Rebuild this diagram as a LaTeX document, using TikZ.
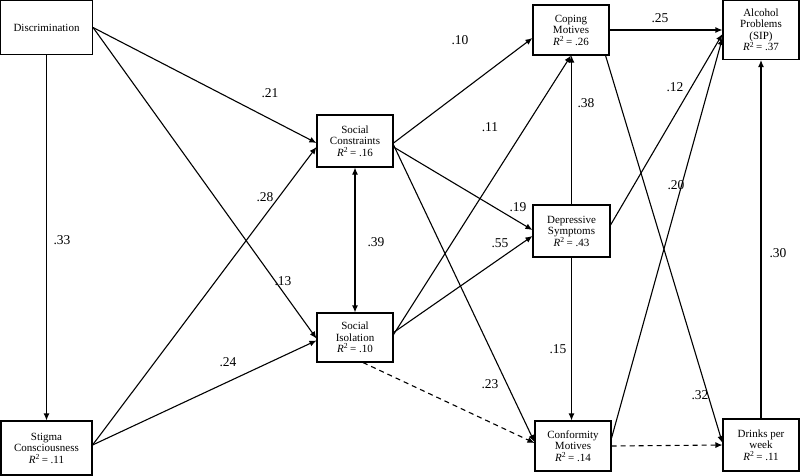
\documentclass[tikz,border=0pt]{standalone}
\usepackage{fontspec}
\setmainfont{Liberation Serif}
\usetikzlibrary{arrows.meta}

\newcommand{\rsq}[1]{\textit{R}\textsuperscript{2}\,= #1}

\begin{document}
\begin{tikzpicture}[x=1pt,y=-1pt,line width=1.1pt,>={Latex[length=7pt,width=6pt]}]
  \tikzset{
    varbox/.style={draw,line width=1.1pt,align=center,inner sep=1pt,
      font=\fontsize{11}{11.5}\selectfont},
    coef/.style={font=\fontsize{13.5}{13.5}\selectfont},
    pathline/.style={->},
    nspath/.style={->,dash pattern=on 5pt off 4pt}
  }
  \useasboundingbox (0,0) rectangle (800,476);
  % cajas
  \node[varbox,minimum width=92pt,minimum height=54pt] (disc) at (46.5,27.5){Discrimination};
  \node[varbox,minimum width=91pt,minimum height=54pt] (stig) at (46.5,448){Stigma\\Consciousness\\\rsq{.11}};
  \node[varbox,minimum width=76pt,minimum height=52pt] (cons) at (355,141){Social\\Constraints\\\rsq{.16}};
  \node[varbox,minimum width=76pt,minimum height=49pt] (isol) at (355,337.5){Social\\Isolation\\\rsq{.10}};
  \node[varbox,minimum width=76pt,minimum height=50pt] (cop) at (571,30){Coping\\Motives\\\rsq{.26}};
  \node[varbox,minimum width=77pt,minimum height=52pt] (dep) at (571.5,231){Depressive\\Symptoms\\\rsq{.43}};
  \node[varbox,minimum width=76pt,minimum height=50pt] (conf) at (573,446){Conformity\\Motives\\\rsq{.14}};
  \node[varbox,minimum width=76pt,minimum height=59pt] (alc) at (761,30){Alcohol\\Problems\\(SIP)\\\rsq{.37}};
  \node[varbox,minimum width=76pt,minimum height=52pt] (drk) at (761,445){Drinks per\\week\\\rsq{.11}};
  % discriminacion y estigma
  \draw[pathline] (disc.south) -- (stig.north);
  \draw[pathline] (disc.east) -- ([yshift=-2pt]cons.west);
  \draw[pathline] (disc.east) -- ([yshift=-1pt]isol.west);
  \draw[pathline] ([yshift=3pt]stig.east) -- ([yshift=-6pt]cons.west);
  \draw[pathline] ([yshift=3pt]stig.east) -- ([yshift=-3pt]isol.west);
  \draw[<->] (cons.south) -- (isol.north);
  % mediadores
  \draw[pathline] ([yshift=-2pt]cons.east) -- ([yshift=-8pt]cop.west);
  \draw[pathline] ([yshift=-6pt]cons.east) -- ([yshift=1pt]dep.west);
  \draw[pathline] ([yshift=-4pt]cons.east) -- ([yshift=4pt]conf.west);
  \draw[pathline] ([yshift=3pt]isol.east) -- (cop.south);
  \draw[pathline] ([yshift=5pt]isol.east) -- ([yshift=-5pt]dep.west);
  \draw[nspath] ([xshift=8pt]isol.south) -- ([yshift=3pt]conf.west);
  \draw[pathline] (dep.north) -- ([xshift=0.5pt]cop.south);
  \draw[pathline] (dep.south) -- ([xshift=-1.5pt]conf.north);
  % resultados
  \draw[pathline] (cop.east) -- ([yshift=0pt]alc.west);
  \draw[pathline] ([xshift=-4pt]cop.south east) -- ([yshift=2pt]drk.west);
  \draw[pathline] ([yshift=6pt]dep.east) -- ([yshift=-4pt]alc.west);
  \draw[pathline] ([yshift=8pt]conf.east) -- ([yshift=-8pt]alc.west);
  \draw[nspath] ([yshift=0pt]conf.east) -- ([yshift=0pt]drk.west);
  \draw[pathline] (drk.north) -- (alc.south);
  % coeficientes
  \node[coef] (c33) at (62,240){.33};
  \node[coef] (c21) at (270,93){.21};
  \node[coef] (c13) at (283,281){.13};
  \node[coef] (c28) at (265,197){.28};
  \node[coef] (c24) at (228,362){.24};
  \node[coef] (c39) at (376,242){.39};
  \node[coef] (c10) at (460,40){.10};
  \node[coef] (c19) at (518,207){.19};
  \node[coef] (c23) at (490,384){.23};
  \node[coef] (c11) at (490,127){.11};
  \node[coef] (c55) at (500,243){.55};
  \node[coef] (c38) at (586,103){.38};
  \node[coef] (c15) at (558,349){.15};
  \node[coef] (c25) at (660,18){.25};
  \node[coef] (c32) at (700,395){.32};
  \node[coef] (c12) at (675,87){.12};
  \node[coef] (c20) at (676,185){.20};
  \node[coef] (c30) at (778,253){.30};
\end{tikzpicture}
\end{document}
